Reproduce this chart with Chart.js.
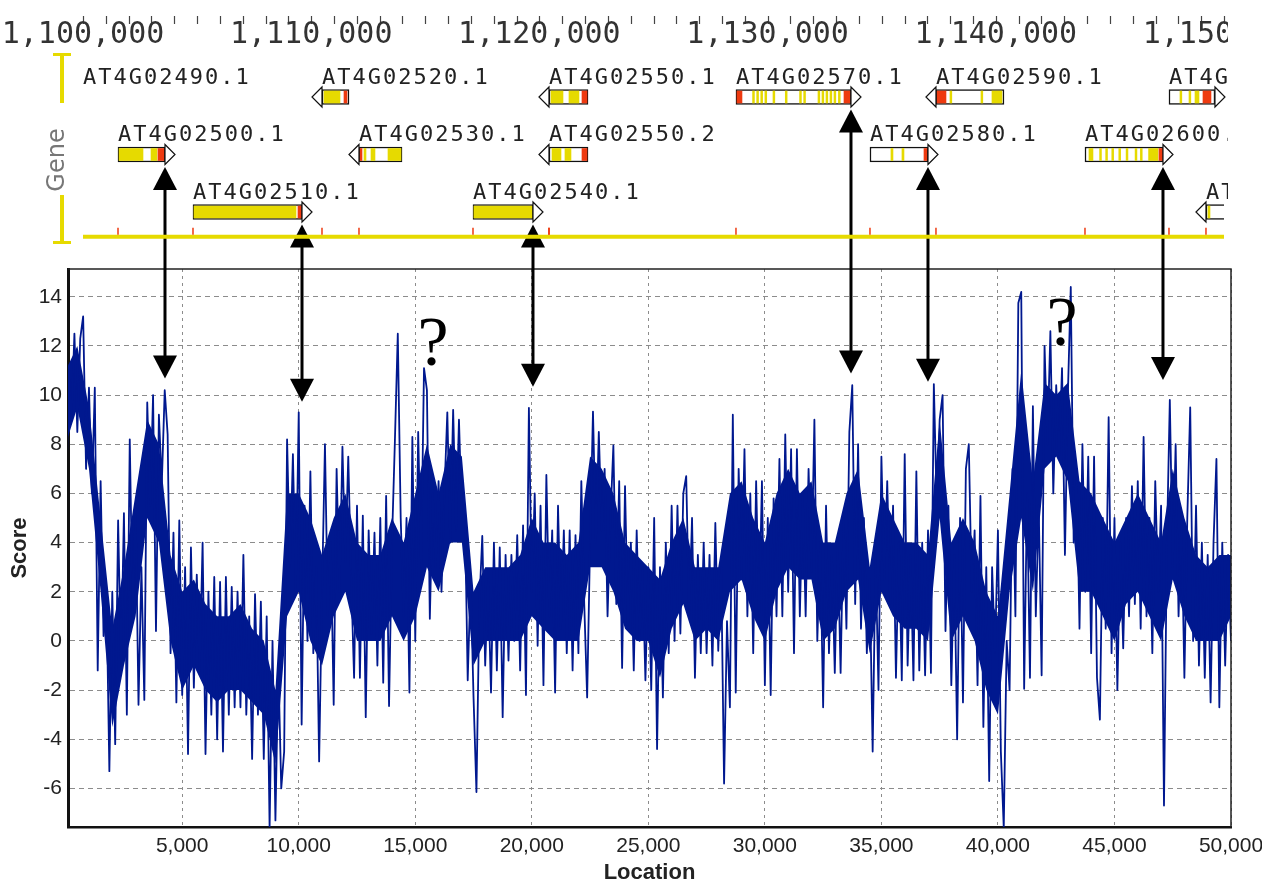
<!DOCTYPE html>
<html>
<head>
<meta charset="utf-8">
<script src="https://cdn.jsdelivr.net/npm/chart.js@4.4.1/dist/chart.umd.min.js"></script>
<style>
  html, body { margin: 0; padding: 0; background: #fff; }
  #wrap { position: relative; width: 1262px; height: 884px; }
  #scoreChart, #geneChart { position: absolute; left: 0; top: 0; }
  #geneChart { pointer-events: none; }
</style>
</head>
<body>
<div id="wrap">
  <canvas id="scoreChart" width="1262" height="884"></canvas>
  <canvas id="geneChart" width="1228" height="266"></canvas>
</div>
<script>
// score track: one value every 125 bp starting at location 0
const scoreStart = 0;
const scoreStep = 125;
const scores = [
  4.3, 11.0, 9.0, 12.5, 8.5, 12.3, 13.2, 7.0, 10.3, 6.0,
  10.3, -1.2, 6.5, 0.2, 2.0, -5.3, 2.0, -4.2, 4.9, -1.0,
  5.2, -3.0, 8.2, 1.0, 5.5, -2.6, 3.0, -2.4, 9.7, 5.5,
  10.0, 0.4, 9.2, 6.4, 10.2, 8.4, -0.5, 4.4, -2.5, 4.9,
  -2.2, 3.0, -4.6, 3.8, -1.9, 2.7, -1.2, 4.0, -4.6, 2.0,
  -3.0, 2.6, -4.0, 2.4, -4.5, 2.6, -3.0, 2.2, -2.7, 2.0,
  -2.7, 3.5, -3.0, 1.0, -4.8, 1.9, -3.0, 1.6, -4.8, 1.0,
  -7.6, 0.0, -7.3, -1.0, -6.0, -4.5, 8.2, 3.0, 7.6, 2.0,
  9.3, -3.4, 5.5, 0.0, 6.9, -0.5, 3.0, -4.9, 2.0, 8.0,
  1.0, 4.0, -2.6, 7.0, 2.0, 7.9, 3.2, 7.5, 2.5, -1.5,
  5.5, -1.5, 5.1, -3.1, 4.5, 0.3, 4.4, -1.0, 5.0, -1.7,
  5.9, -2.65, 4.0, 8.1, 12.5, 5.0, 1.0, 5.0, -2.1, 8.3,
  0.0, 8.5, 3.0, 11.1, 10.2, 0.9, 6.0, 3.0, 6.5, 2.0,
  6.0, 9.3, 4.0, 9.4, 4.5, 9.0, 5.0, 5.5, -1.6, 2.5,
  -2.3, -6.15, 1.5, 4.27, -1.0, 2.5, -2.1, 4.0, -1.2, 3.8,
  -3.1, 3.5, -0.8, 3.5, 0.0, 4.3, -1.2, 4.7, -2.2, 9.48,
  2.0, 6.0, -0.2, 5.5, -1.8, 6.75, 1.0, 4.5, -2.1, 5.5,
  0.5, 4.5, -0.5, 4.5, -1.2, 4.3, -0.5, 6.5, 1.5, -2.3,
  4.0, 9.33, 4.0, 8.5, 4.5, 7.0, 1.0, 5.0, 7.95, 1.5,
  6.5, -1.1, 6.3, 0.5, 4.0, -1.2, 4.5, 0.0, 3.0, -1.6,
  3.0, -2.0, 5.0, -4.4, 3.0, -2.3, 4.0, -0.5, 5.5, 0.0,
  5.5, 0.3, 6.0, 6.7, 1.0, 5.0, -1.5, 3.5, -0.5, 4.0,
  -0.5, 3.5, -1.0, 4.8, -0.4, 3.0, -5.8, 0.8, -2.7, 9.2,
  -2.1, 7.0, 2.5, 7.8, 1.0, 6.0, -0.5, 6.5, 1.0, 6.5,
  -1.8, 5.0, -2.2, 5.8, 1.0, 7.4, 1.0, 8.4, 2.0, 7.8,
  -0.5, 7.8, 1.0, 6.0, 1.0, 7.0, 2.8, 9.0, 0.0, 4.0,
  -2.7, 5.5, -0.5, 3.5, -1.3, 4.0, -1.3, 5.0, 0.5, 8.5,
  10.4, 1.5, 8.0, 0.5, 5.0, -0.5, 2.5, -4.5, 3.5, -2.0,
  7.5, 2.5, 6.5, 1.5, 5.5, -1.5, 4.0, -1.6, 7.6, -1.0,
  3.5, -1.6, 6.9, -1.2, 4.0, -1.4, 4.5, -1.3, 10.45, 5.5,
  9.0, 10.0, 0.4, 5.5, -1.8, 3.5, -4.0, 5.0, -2.5, 7.0,
  8.0, 2.0, 4.5, -1.8, 5.9, -3.5, 3.0, -5.7, 3.0, -0.5,
  4.5, -4.5, -7.6, 0.0, -2.0, 7.0, 1.0, 13.75, 14.2, -1.95,
  6.0, -1.5, 9.55, 1.0, 5.5, -1.4, 12.0, 8.0, 12.6, 6.0,
  10.4, 7.5, 11.1, 3.5, 10.0, 14.4, 4.0, 7.0, 0.5, 8.0,
  2.0, 7.5, -0.5, 7.5, -1.5, -3.2, 5.0, 0.5, 9.1, -0.5,
  5.0, -2.0, 4.0, -0.3, 5.0, 1.0, 6.3, 1.5, 6.5, 0.5,
  8.3, 1.0, 5.0, -0.5, 6.5, 2.0, 5.5, -6.7, 4.0, 9.8,
  3.0, 8.0, 1.0, 5.0, -1.5, 5.0, 9.5, 0.0, 5.5, -1.0,
  4.0, -1.5, 3.5, -2.5, 4.0, 7.4, -2.7, 4.0, -1.0, 3.5,
  0.0
];
// the solid core of the dense trace, read every 500 bp
const bodyStep = 500;
const bodyLow = [
  8, 9.5, 7, 2, -3.5, -1, 1, 5, 4, 0,
  -2, -1, -2, -2.5, -2, -2, -2.5, -3, -5, 1,
  2, 0, -1, 1, 2, 0, 0, 0, 1, 0,
  1, 3, 2, 4, 4, -1, 0, 0, 0, 0,
  1, 0.5, 0, 0, 0, 3, 3, 2, 0.5, 0,
  0, -1.5, 0.5, 1.5, 0, 0.5, 0, 2, 2.5, 1,
  0, 2, 3, 2.5, 2.5, 0, 0.5, 2, 2.5, -0.5,
  2, 1, 0.5, 0.5, 0, 5, 0, 1, 0, -2,
  -3, 2, 5, 2, 7, 7.5, 6.5, 2, 2, 1,
  0, 1.5, 2, 1, 0, 2.5, 1, 0, 0, 0,
  1
];
const bodyHigh = [
  11, 12, 9.5, 5, 0.5, 3, 6, 9, 8, 3.5,
  2, 2.5, 1.5, 1, 1, 1.5, 0.5, 0, -2, 6,
  6, 5, 3.5, 5, 6, 4, 3.5, 3.5, 5, 4,
  6, 8, 6, 8, 7.5, 2, 3, 3, 3, 3.5,
  5, 4, 4, 3.5, 4, 7.5, 7, 6, 4, 3.5,
  3, 2.5, 4, 5, 3, 3, 3, 6, 6.5, 5,
  4, 6, 7, 6, 6.5, 4, 4, 6, 7, 3,
  6, 5, 4, 4, 3.5, 9, 4, 5, 4, 2,
  1, 6, 11, 6.5, 10.5, 10, 10.5, 6.5, 6, 5,
  4, 5, 6, 5, 4, 7, 5, 3.5, 3, 3.5,
  3.5
];
const locTicks = [5000, 10000, 15000, 20000, 25000, 30000, 35000, 40000, 45000, 50000];
const scoreTicks = [-6, -4, -2, 0, 2, 4, 6, 8, 10, 12, 14];

// genome ruler
const rulerLabels = [1100000, 1110000, 1120000, 1130000, 1140000, 1150000];
const rulerStep = 1000;

// gene models (genomic coordinates)
const geneNames = ['AT4G02490.1', 'AT4G02520.1', 'AT4G02550.1', 'AT4G02570.1', 'AT4G02590.1', 'AT4G02610.1',
                   'AT4G02500.1', 'AT4G02530.1', 'AT4G02550.2', 'AT4G02580.1', 'AT4G02600.1',
                   'AT4G02510.1', 'AT4G02540.1', 'AT4G02620.1'];
const geneRow = [0, 0, 0, 0, 0, 0, 1, 1, 1, 1, 1, 2, 2, 2];
const geneStart = [1097000, 1110473, 1120420, 1128614, 1137378, 1147589, 1101534, 1112094, 1120420, 1134486, 1143908, 1104820, 1117090, 1149210];
const geneEnd = [1099500, 1111656, 1122129, 1133654, 1140358, 1149604, 1103593, 1113979, 1122129, 1137028, 1147326, 1109597, 1119719, 1151500];
const geneStrand = [-1, -1, -1, 1, -1, 1, 1, -1, -1, 1, 1, 1, 1, -1];

// [gene, from, to]
const yellowParts = [
  [1, 1110561, 1111262],
  [2, 1120508, 1121034], [2, 1121296, 1121734],
  [3, 1129342, 1129422], [3, 1129522, 1129602], [3, 1129701, 1129781], [3, 1129881, 1129961],
  [3, 1130236, 1130316], [3, 1130775, 1130855], [3, 1131401, 1131481], [3, 1131581, 1131661],
  [3, 1132208, 1132288], [3, 1132383, 1132463], [3, 1132558, 1132638], [3, 1132734, 1132814],
  [3, 1132909, 1132989], [3, 1133102, 1133182],
  [4, 1137992, 1138072], [4, 1139350, 1139430], [4, 1139832, 1140270],
  [5, 1148071, 1148151], [5, 1148466, 1148546], [5, 1148729, 1148904],
  [6, 1101580, 1102629], [6, 1102980, 1103243],
  [7, 1112314, 1112401], [7, 1112620, 1112795], [7, 1113365, 1113935],
  [8, 1120552, 1120946], [8, 1121120, 1121384],
  [9, 1135406, 1135494], [9, 1135888, 1135976],
  [10, 1144083, 1144258], [10, 1144549, 1144629], [10, 1144815, 1144895], [10, 1145083, 1145163],
  [10, 1145390, 1145470], [10, 1145710, 1145790], [10, 1146104, 1146184], [10, 1146336, 1146416],
  [10, 1146695, 1147107],
  [11, 1104864, 1109334],
  [12, 1117130, 1119680],
  [13, 1149298, 1149386]
];
const redParts = [
  [1, 1111437, 1111568],
  [2, 1121866, 1122085],
  [3, 1128658, 1128877], [3, 1133347, 1133610],
  [4, 1137422, 1137817],
  [5, 1149079, 1149429],
  [6, 1103287, 1103549],
  [7, 1112138, 1112226],
  [8, 1121866, 1122085],
  [9, 1136853, 1136985],
  [10, 1147151, 1147300],
  [11, 1109421, 1109560]
];

// hand-drawn annotations: gene end -> score peak
const arrowGene = [6, 11, 12, 3, 9, 10];
const arrowScore = [10.68, 9.73, 10.34, 10.88, 10.54, 10.61];
const questionLoc = [15761, 42749];
const questionScore = [11.22, 12.04];

const BLUE = '#00188f';
const YELLOW = '#e6da00';
const RED = '#ee3a10';
const baselineRow = 2.43;

const rulerTicks = [];
for (let v = rulerLabels[0]; v <= rulerLabels[rulerLabels.length - 1]; v += rulerStep) rulerTicks.push(v);

const geneDecor = {
  id: 'geneDecor',
  beforeDraw(chart) {
    // minor ruler marks, under the labels
    const { ctx, scales: { x } } = chart;
    ctx.save();
    ctx.strokeStyle = '#444';
    ctx.lineWidth = 1.2;
    rulerTicks.forEach(v => {
      const px = Math.round(x.getPixelForValue(v)) + 0.5;
      ctx.beginPath();
      ctx.moveTo(px, 16);
      ctx.lineTo(px, 24);
      ctx.stroke();
    });
    ctx.restore();
  },
  beforeDatasetsDraw(chart) {
    const { ctx, chartArea: a, scales: { x, y } } = chart;
    const by = y.getPixelForValue(baselineRow);
    ctx.save();
    ctx.fillStyle = YELLOW;
    ctx.fillRect(a.left, by - 2, a.right - a.left, 4);
    ctx.strokeStyle = RED;
    ctx.lineWidth = 1.5;
    geneStart.forEach(s => {
      const px = x.getPixelForValue(s);
      if (px < a.left || px > a.right) return;
      ctx.beginPath();
      ctx.moveTo(px, by - 9);
      ctx.lineTo(px, by - 2);
      ctx.stroke();
    });
    ctx.restore();
  },
  afterDatasetsDraw(chart) {
    const { ctx, chartArea: a, scales: { x, y } } = chart;
    ctx.save();
    // strand arrows
    ctx.fillStyle = '#fff';
    ctx.strokeStyle = '#111';
    ctx.lineWidth = 1.2;
    geneNames.forEach((n, i) => {
      const yc = y.getPixelForValue(geneRow[i]);
      const xe = x.getPixelForValue(geneStrand[i] > 0 ? geneEnd[i] : geneStart[i]);
      if (xe < a.left || xe > a.right) return;
      ctx.beginPath();
      ctx.moveTo(xe, yc - 10);
      ctx.lineTo(xe + 10 * geneStrand[i], yc);
      ctx.lineTo(xe, yc + 10);
      ctx.closePath();
      ctx.fill();
      ctx.stroke();
    });
    // names
    ctx.fillStyle = '#222';
    ctx.font = '22px "DejaVu Sans Mono"';
    ctx.letterSpacing = '2px';
    ctx.textBaseline = 'middle';
    ctx.textAlign = 'left';
    geneNames.forEach((n, i) => {
      const px = Math.max(a.left, x.getPixelForValue(geneStart[i]));
      ctx.fillText(n, px, y.getPixelForValue(geneRow[i]) - 19);
    });
    ctx.letterSpacing = '0px';
    // track label and bracket
    ctx.fillStyle = YELLOW;
    ctx.fillRect(60, 53, 4, 50);
    ctx.fillRect(53, 53, 18, 3);
    ctx.fillRect(60, 195, 4, 48);
    ctx.fillRect(53, 241, 18, 3);
    ctx.translate(58, 160);
    ctx.rotate(-Math.PI / 2);
    ctx.fillStyle = '#777';
    ctx.font = '24px "DejaVu Sans"';
    ctx.textAlign = 'center';
    ctx.fillText('Gene', 0, 0);
    ctx.restore();
  }
};

const geneChart = new Chart(document.getElementById('geneChart'), {
  type: 'bar',
  data: {
    datasets: [
      {
        data: redParts.map(p => ({ x: [p[1], p[2]], y: geneRow[p[0]] })),
        backgroundColor: RED, barThickness: 12, grouped: false, order: 1, clip: 0
      },
      {
        data: yellowParts.map(p => ({ x: [p[1], p[2]], y: geneRow[p[0]] })),
        backgroundColor: YELLOW, barThickness: 12, grouped: false, order: 2, clip: 0
      },
      {
        data: geneNames.map((n, i) => ({ x: [geneStart[i], geneEnd[i]], y: geneRow[i] })),
        backgroundColor: '#fff', borderColor: '#111', borderWidth: 1.5, borderSkipped: false,
        barThickness: 15, grouped: false, order: 3, clip: 0
      }
    ]
  },
  options: {
    indexAxis: 'y',
    responsive: false,
    animation: false,
    devicePixelRatio: 1,
    layout: { padding: { left: 83, right: 4, top: 0, bottom: 20 } },
    plugins: { legend: { display: false }, tooltip: { enabled: false } },
    scales: {
      x: {
        type: 'linear',
        position: 'top',
        min: rulerLabels[0],
        max: rulerLabels[rulerLabels.length - 1],
        afterBuildTicks: s => { s.ticks = rulerLabels.map(v => ({ value: v })); },
        afterFit: s => { s.height = 48; s.paddingLeft = 0; s.paddingRight = 0; },
        grid: { drawOnChartArea: false, drawTicks: false },
        border: { display: false },
        ticks: {
          padding: -5, autoSkip: false, maxRotation: 0,
          font: { family: 'DejaVu Sans Mono', size: 30 }, color: '#333',
          callback: v => v.toLocaleString('en-US')
        }
      },
      y: { type: 'linear', display: false, reverse: true, offset: false, min: -0.852, max: 2.591 }
    }
  },
  plugins: [geneDecor]
});

function drawArrow(ctx, x, y1, y2) {
  const hw = 12, hl = 23;
  ctx.beginPath();
  ctx.moveTo(x, y1 + hl - 2);
  ctx.lineTo(x, y2 - hl + 2);
  ctx.stroke();
  ctx.beginPath();
  ctx.moveTo(x, y1);
  ctx.lineTo(x - hw, y1 + hl);
  ctx.lineTo(x + hw, y1 + hl);
  ctx.closePath();
  ctx.fill();
  ctx.beginPath();
  ctx.moveTo(x, y2);
  ctx.lineTo(x - hw, y2 - hl);
  ctx.lineTo(x + hw, y2 - hl);
  ctx.closePath();
  ctx.fill();
}

const scoreDecor = {
  id: 'scoreDecor',
  afterDraw(chart) {
    const { ctx, chartArea: a, scales: { x, y } } = chart;
    ctx.save();
    // frame top and right
    ctx.strokeStyle = '#222';
    ctx.lineWidth = 1.5;
    ctx.beginPath();
    ctx.moveTo(a.left, a.top);
    ctx.lineTo(a.right, a.top);
    ctx.lineTo(a.right, a.bottom);
    ctx.stroke();
    // question marks
    ctx.fillStyle = '#000';
    ctx.font = '70px "Liberation Serif"';
    ctx.textAlign = 'center';
    ctx.textBaseline = 'alphabetic';
    questionLoc.forEach((l, k) => ctx.fillText('?', x.getPixelForValue(l), y.getPixelForValue(questionScore[k])));
    // arrows from gene ends to peaks
    ctx.strokeStyle = '#000';
    ctx.lineWidth = 3;
    const gx = geneChart.scales.x, gy = geneChart.scales.y;
    arrowGene.forEach((g, k) => {
      const px = gx.getPixelForValue(geneEnd[g]);
      const top = gy.getPixelForValue(geneRow[g]) + 7.5 + 5;
      drawArrow(ctx, px, top, y.getPixelForValue(arrowScore[k]));
    });
    ctx.restore();
  }
};

const scoreChart = new Chart(document.getElementById('scoreChart'), {
  type: 'line',
  data: {
    datasets: [
      {
        data: scores.map((v, i) => ({ x: scoreStart + i * scoreStep, y: v })),
        borderColor: BLUE,
        borderWidth: 1.8,
        borderJoinStyle: 'round',
        pointRadius: 0,
        tension: 0
      },
      {
        data: bodyLow.map((v, i) => ({ x: i * bodyStep, y: v })),
        borderWidth: 0,
        pointRadius: 0,
        fill: false
      },
      {
        data: bodyHigh.map((v, i) => ({ x: i * bodyStep, y: v })),
        borderWidth: 0,
        pointRadius: 0,
        backgroundColor: BLUE,
        fill: '-1'
      }
    ]
  },
  options: {
    responsive: false,
    animation: false,
    devicePixelRatio: 1,
    layout: { padding: { left: 0, right: 31, top: 269, bottom: 0 } },
    plugins: { legend: { display: false }, tooltip: { enabled: false } },
    scales: {
      x: {
        type: 'linear',
        min: 100,
        max: 50000,
        afterBuildTicks: s => { s.ticks = locTicks.map(v => ({ value: v })); },
        afterFit: s => { s.height = 57; s.paddingLeft = 0; s.paddingRight = 0; },
        grid: { color: '#8c8c8c', lineWidth: 1, drawTicks: false },
        border: { display: true, color: '#111', width: 2.5, dash: [3, 4] },
        ticks: {
          padding: 7, autoSkip: false, maxRotation: 0,
          font: { family: 'Liberation Sans', size: 21 }, color: '#222',
          callback: v => v.toLocaleString('en-US')
        },
        title: {
          display: true, text: 'Location', color: '#222',
          font: { family: 'Liberation Sans', size: 22, weight: 'bold', lineHeight: 1 },
          padding: { top: 0, bottom: 0 }
        }
      },
      y: {
        min: -7.57,
        max: 15.13,
        afterBuildTicks: s => { s.ticks = scoreTicks.map(v => ({ value: v })); },
        afterFit: s => { s.width = 68; s.paddingTop = 0; s.paddingBottom = 0; },
        grid: { color: '#8c8c8c', lineWidth: 1, drawTicks: false },
        border: { display: true, color: '#111', width: 3, dash: [5, 4] },
        ticks: {
          padding: 6,
          font: { family: 'Liberation Sans', size: 21 }, color: '#222',
          callback: v => String(v)
        },
        title: {
          display: true, text: 'Score', color: '#222',
          font: { family: 'Liberation Sans', size: 22, weight: 'bold', lineHeight: 1 },
          padding: { top: 9, bottom: 0 }
        }
      }
    }
  },
  plugins: [scoreDecor]
});
</script>
</body>
</html>
